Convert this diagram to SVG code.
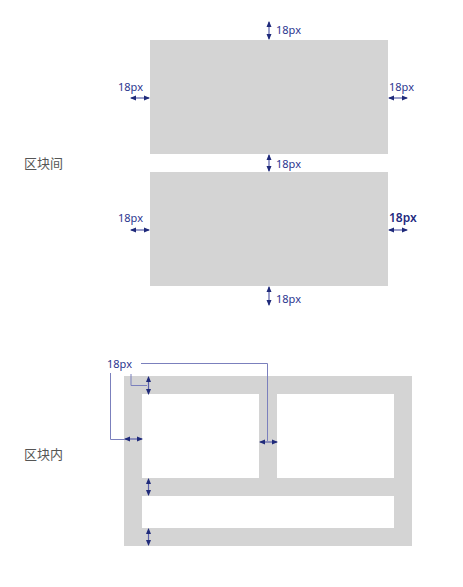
<svg xmlns="http://www.w3.org/2000/svg" width="463" height="587" viewBox="0 0 463 587">
<style>
.blk{fill:#d4d4d4}
.in{fill:#ffffff}
.dim{stroke:#5a60aa;stroke-width:1.2;fill:none;marker-start:url(#ah);marker-end:url(#ah)}
.lead{stroke:#7b80bd;stroke-width:1;fill:none}
.t{font-family:"Noto Sans","Liberation Sans",sans-serif;font-size:11px;fill:#2b3590}
.tb{font-family:"Noto Sans","Liberation Sans",sans-serif;font-size:12px;font-weight:600;fill:#1f2a80}
.lbl{font-family:"Noto Sans CJK SC",sans-serif;font-size:13px;fill:#555555}
</style>
<defs>
<marker id="ah" viewBox="0 0 6 6" refX="5" refY="3" markerWidth="6" markerHeight="6" markerUnits="userSpaceOnUse" orient="auto-start-reverse">
<path d="M0,0.5 L6,3 L0,5.5 Z" fill="#1f2a7a"/>
</marker>
</defs>
<g id="block1"><rect class="blk" x="150" y="40" width="238" height="114"/></g>
<g id="block2"><rect class="blk" x="150" y="172" width="238" height="114"/></g>
<g id="block3">
<rect class="blk" x="124" y="376" width="288" height="170"/>
<rect class="in" x="142" y="394" width="117" height="84"/>
<rect class="in" x="277" y="394" width="117" height="84"/>
<rect class="in" x="142" y="496" width="252" height="32"/>
</g>
<g id="labels">
<text class="lbl" x="24" y="168">区块间</text>
<text class="lbl" x="24" y="459">区块内</text>
<text class="t" x="276" y="34">18px</text>
<text class="t" x="118" y="91">18px</text>
<text class="t" x="389" y="91">18px</text>
<text class="t" x="276" y="168">18px</text>
<text class="t" x="118" y="222">18px</text>
<text class="tb" x="389" y="222">18px</text>
<text class="t" x="276" y="303">18px</text>
<text class="t" x="107" y="368">18px</text>
</g>
<g id="connectors">
<line class="dim" x1="269" y1="22" x2="269" y2="39"/>
<line class="dim" x1="131" y1="98" x2="149" y2="98"/>
<line class="dim" x1="389" y1="98" x2="407" y2="98"/>
<line class="dim" x1="269" y1="155" x2="269" y2="171"/>
<line class="dim" x1="131" y1="230" x2="149" y2="230"/>
<line class="dim" x1="389" y1="230" x2="407" y2="230"/>
<line class="dim" x1="269" y1="287" x2="269" y2="305"/>
<line class="dim" x1="148.5" y1="377" x2="148.5" y2="394"/>
<line class="dim" x1="125" y1="439" x2="142" y2="439"/>
<line class="dim" x1="260" y1="442" x2="277" y2="442"/>
<line class="dim" x1="148.5" y1="479" x2="148.5" y2="495"/>
<line class="dim" x1="148.5" y1="529" x2="148.5" y2="545"/>
<polyline class="lead" points="131,374 131,385.5 147,385.5"/>
<polyline class="lead" points="110.5,373 110.5,439.5 125,439.5"/>
<polyline class="lead" points="141,363.5 267.5,363.5 267.5,441"/>
</g>
</svg>
